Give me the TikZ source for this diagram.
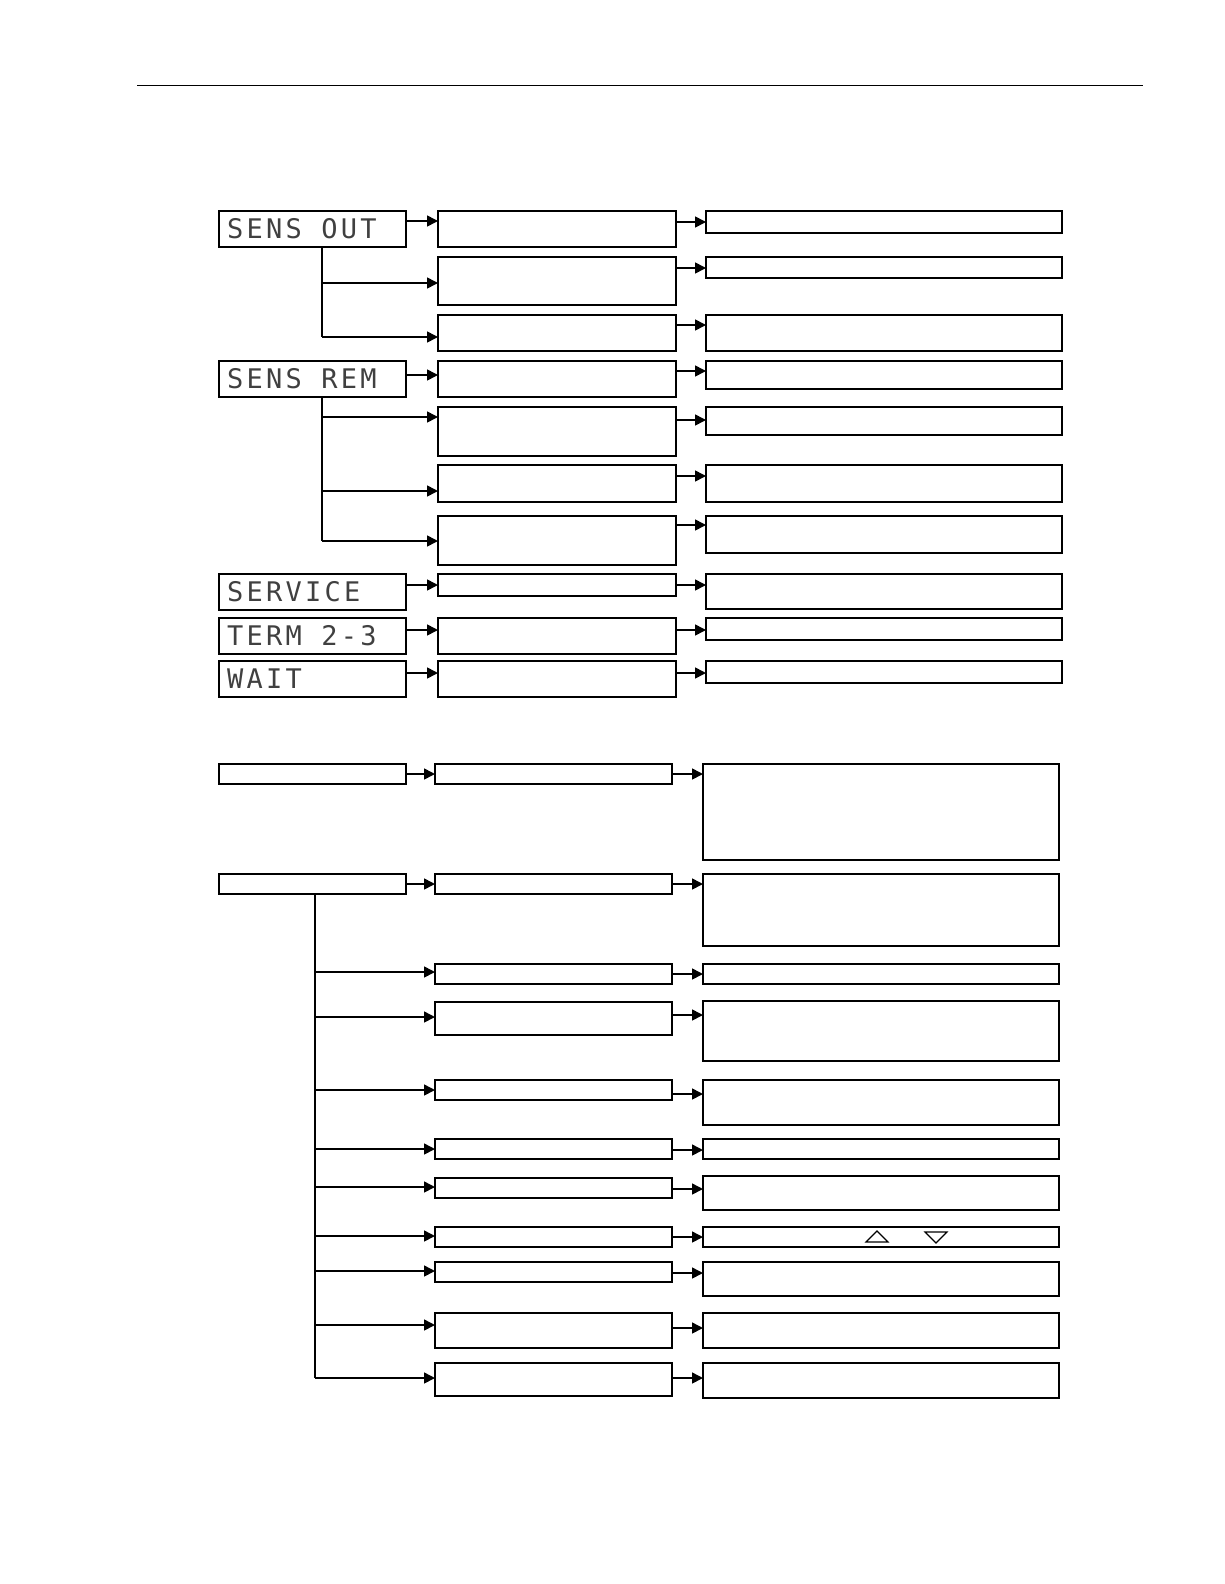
\documentclass[tikz,border=0pt]{standalone}
\usepackage{fontspec}
\newfontfamily\lcdfont[LetterSpace=12]{DejaVu Sans Mono}
\usetikzlibrary{arrows.meta}
\tikzset{
 bx/.style={draw,line width=2.6pt,inner sep=0pt,outer sep=0pt},
 arr/.style={line width=1.6pt,-{Triangle[length=11pt,width=11pt]}},
 ln/.style={line width=1.6pt},
 lcd/.style={anchor=west,font=\lcdfont\fontsize{27}{27}\selectfont,text=black!75,inner sep=0pt}
}
\newcommand{\bx}[5]{\node[bx,minimum width={#4pt-#2pt},minimum height={#5pt-#3pt}] (#1) at ({(#2+#4)/2},{(#3+#5)/2}) {};}
\begin{document}
\begin{tikzpicture}[x=1pt,y=-1pt]
\useasboundingbox (0,0) rectangle (1224,1584);
\draw[line width=1pt] (137,86) -- (1143,86);
% section 1 column 1
\bx{s1}{219}{211}{406}{247}
\bx{s2}{219}{361}{406}{397}
\bx{s3}{219}{574}{406}{610}
\bx{s4}{219}{618}{406}{654}
\bx{s5}{219}{661}{406}{697}
\node[lcd] (t1) at (227,229) {SENS OUT};
\node[lcd] (t2) at (227,379) {SENS REM};
\node[lcd] (t3) at (227,592) {SERVICE};
\node[lcd] (t4) at (227,636) {TERM 2-3};
\node[lcd] (t5) at (227,679) {WAIT};
% column 2
\bx{a1}{438}{211}{676}{247}
\bx{a2}{438}{257}{676}{305}
\bx{a3}{438}{315}{676}{351}
\bx{a4}{438}{361}{676}{397}
\bx{a5}{438}{407}{676}{456}
\bx{a6}{438}{465}{676}{502}
\bx{a7}{438}{516}{676}{565}
\bx{a8}{438}{574}{676}{596}
\bx{a9}{438}{618}{676}{654}
\bx{a10}{438}{661}{676}{697}
% column 3
\bx{b1}{706}{211}{1062}{233}
\bx{b2}{706}{257}{1062}{278}
\bx{b3}{706}{315}{1062}{351}
\bx{b4}{706}{361}{1062}{389}
\bx{b5}{706}{407}{1062}{435}
\bx{b6}{706}{465}{1062}{502}
\bx{b7}{706}{516}{1062}{553}
\bx{b8}{706}{574}{1062}{609}
\bx{b9}{706}{618}{1062}{640}
\bx{b10}{706}{661}{1062}{683}
% arrows col1 -> col2
\draw[arr] (s1.east|-0,221) -- (a1.west|-0,221);
\draw[ln] (s1.south-|322,0) -- (322,337);
\draw[arr] (322,283) -- (a2.west|-0,283);
\draw[arr] (322,337) -- (a3.west|-0,337);
\draw[arr] (s2.east|-0,375) -- (a4.west|-0,375);
\draw[ln] (s2.south-|322,0) -- (322,541);
\draw[arr] (322,417) -- (a5.west|-0,417);
\draw[arr] (322,491) -- (a6.west|-0,491);
\draw[arr] (322,541) -- (a7.west|-0,541);
\draw[arr] (s3.east|-0,585) -- (a8.west|-0,585);
\draw[arr] (s4.east|-0,630) -- (a9.west|-0,630);
\draw[arr] (s5.east|-0,673) -- (a10.west|-0,673);
% arrows col2 -> col3
\foreach \i/\y in {1/222,2/268,3/325,4/371,5/420,6/476,7/525,8/585,9/630,10/673}
  \draw[arr] (a\i.east|-0,\y) -- (b\i.west|-0,\y);
% section 2
\bx{c1}{219}{764}{406}{784}
\bx{c2}{219}{874}{406}{894}
\bx{d1}{435}{764}{672}{784}
\bx{d2}{435}{874}{672}{894}
\bx{e1}{703}{764}{1059}{860}
\bx{e2}{703}{874}{1059}{946}
\draw[arr] (c1.east|-0,774) -- (d1.west|-0,774);
\draw[arr] (d1.east|-0,774) -- (e1.west|-0,774);
\draw[arr] (c2.east|-0,884) -- (d2.west|-0,884);
\draw[arr] (d2.east|-0,884) -- (e2.west|-0,884);
\draw[ln] (c2.south-|315,0) -- (315,1378);
\bx{d3}{435}{964}{672}{984}     \bx{e3}{703}{964}{1059}{984}
\bx{d4}{435}{1002}{672}{1035}   \bx{e4}{703}{1001}{1059}{1061}
\bx{d5}{435}{1080}{672}{1100}   \bx{e5}{703}{1080}{1059}{1125}
\bx{d6}{435}{1139}{672}{1159}   \bx{e6}{703}{1139}{1059}{1159}
\bx{d7}{435}{1178}{672}{1198}   \bx{e7}{703}{1176}{1059}{1210}
\bx{d8}{435}{1227}{672}{1247}   \bx{e8}{703}{1227}{1059}{1247}
\bx{d9}{435}{1262}{672}{1282}   \bx{e9}{703}{1262}{1059}{1296}
\bx{d10}{435}{1313}{672}{1348}  \bx{e10}{703}{1313}{1059}{1348}
\bx{d11}{435}{1363}{672}{1396}  \bx{e11}{703}{1363}{1059}{1398}
\foreach \i/\y/\z in {3/972/974,4/1017/1015,5/1090/1094,6/1149/1150,7/1187/1189,8/1236/1237,9/1271/1273,10/1325/1328,11/1378/1378}{
  \draw[arr] (315,\y) -- (d\i.west|-0,\y);
  \draw[arr] (d\i.east|-0,\z) -- (e\i.west|-0,\z);
}
\draw[line width=1.2pt] (866,1242) -- (877,1231) -- (888,1242) -- cycle;
\draw[line width=1.2pt] (925,1232) -- (947,1232) -- (936,1243) -- cycle;
\end{tikzpicture}
\end{document}
